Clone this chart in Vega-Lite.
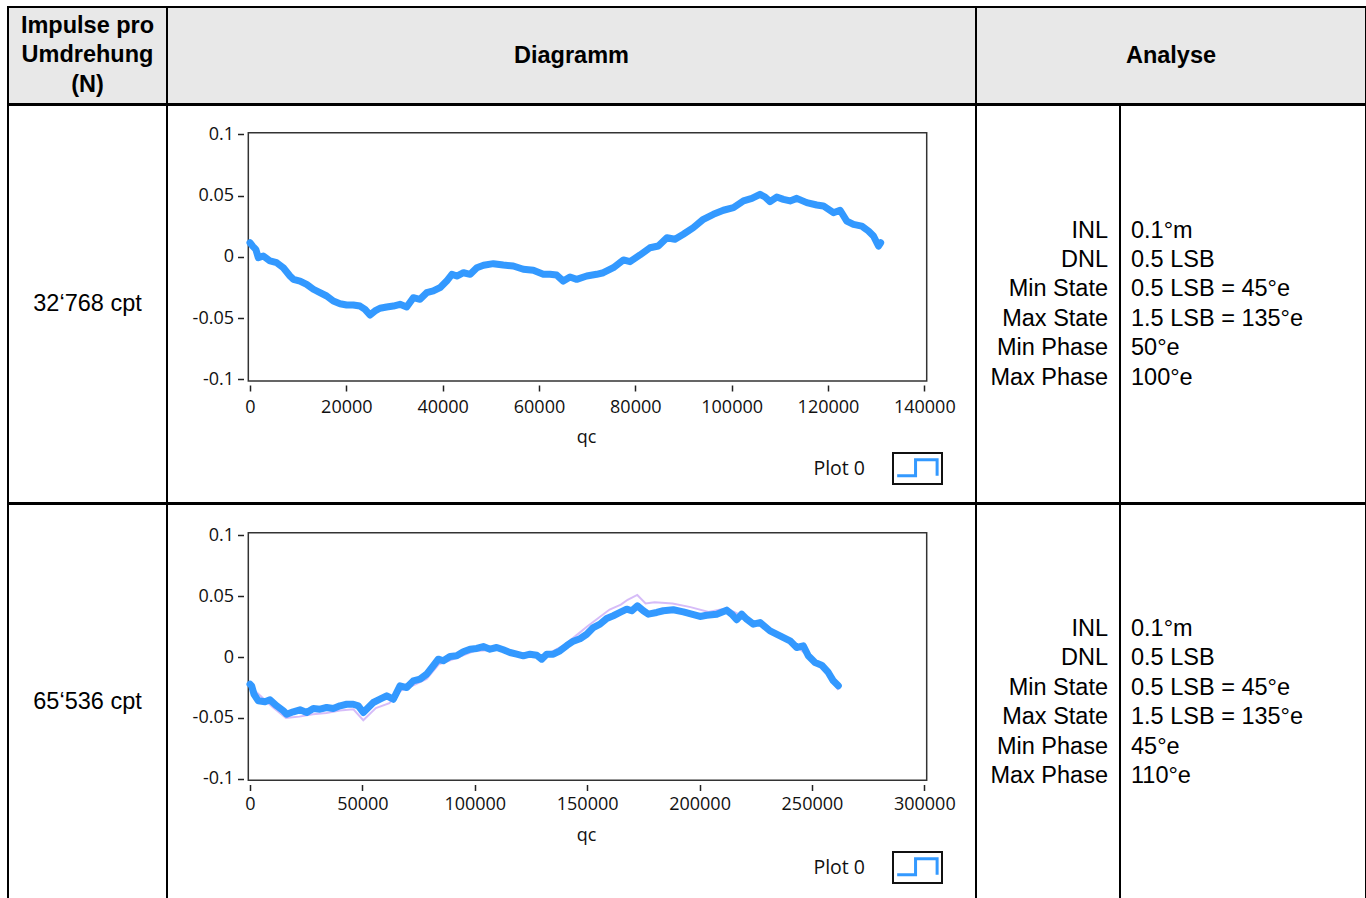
{
  "$schema": "https://vega.github.io/schema/vega-lite/v6.json",
  "background": "white",
  "padding": {"left": 7, "top": 6, "right": 0, "bottom": 0},
  "spacing": -2,
  "bounds": "full",
  "config": {
    "view": {"stroke": "#000000", "strokeWidth": 2},
    "text": {"font": "Liberation Sans", "fontSize": 23.5, "color": "#000000"}
  },
  "resolve": {"scale": {"color": "independent", "shape": "independent"}, "legend": {"color": "independent", "shape": "independent"}},
  "vconcat": [
    {
      "spacing": 0,
      "bounds": "flush",
      "hconcat": [
        {"width": 159, "height": 97, "view": {"fill": "#e8e8e8", "stroke": "#000000", "strokeWidth": 2},
         "data": {"values": [{"t": "Impulse pro\nUmdrehung\n(N)"}]},
         "mark": {"type": "text", "fontWeight": "bold", "lineBreak": "\n", "lineHeight": 29.5, "baseline": "middle", "dy": -30},
         "encoding": {"y": {"field": "t", "type": "nominal", "scale": {"type": "point"}, "axis": null}, "text": {"field": "t"}}},
        {"width": 809, "height": 97, "view": {"fill": "#e8e8e8", "stroke": "#000000", "strokeWidth": 2},
         "data": {"values": [{"t": "Diagramm"}]},
         "mark": {"type": "text", "fontWeight": "bold", "baseline": "middle"},
         "encoding": {"y": {"field": "t", "type": "nominal", "scale": {"type": "point"}, "axis": null}, "text": {"field": "t"}}},
        {"width": 390, "height": 97, "view": {"fill": "#e8e8e8", "stroke": "#000000", "strokeWidth": 2},
         "data": {"values": [{"t": "Analyse"}]},
         "mark": {"type": "text", "fontWeight": "bold", "baseline": "middle"},
         "encoding": {"y": {"field": "t", "type": "nominal", "scale": {"type": "point"}, "axis": null}, "text": {"field": "t"}}}
      ]
    },
    {
      "spacing": 0,
      "bounds": "flush",
      "resolve": {"scale": {"color": "independent", "shape": "independent"}, "legend": {"color": "independent", "shape": "independent"}},
      "hconcat": [
        {"width": 159, "height": 398,
         "data": {"values": [{"t": "32‘768 cpt"}]},
         "mark": {"type": "text", "baseline": "middle"},
         "encoding": {"y": {"field": "t", "type": "nominal", "scale": {"type": "point"}, "axis": null}, "text": {"field": "t"}}},
        {"width": 809, "height": 398,
         "layer": [
           {"data": {"values": [{}]},
            "mark": {"type": "rect", "fill": "transparent", "stroke": "#333333", "strokeWidth": 1.5},
            "encoding": {
              "x": {"datum": -350, "type": "quantitative", "scale": {"domain": [-17233, 150735], "nice": false, "zero": false},
                    "axis": {"orient": "bottom", "offset": -118, "values": [0, 20000, 40000, 60000, 80000, 100000, 120000, 140000], "format": "d",
                             "domain": false, "grid": false, "tickSize": 6, "tickWidth": 1.5, "tickColor": "#222222",
                             "labelFont": "Open Sans", "labelFontSize": 18, "labelColor": "#111111", "labelPadding": 7, "labelFlush": false, "labelOverlap": false,
                             "title": "qc", "titleFont": "Open Sans", "titleFontSize": 18, "titleFontWeight": "normal", "titleColor": "#111111",
                             "titleX": 419, "titleY": 57, "titleAlign": "center", "titleBaseline": "alphabetic"}},
              "x2": {"datum": 140500},
              "y": {"datum": 0.1013, "type": "quantitative", "scale": {"domain": [-0.20098, 0.12392], "nice": false, "zero": false},
                    "axis": {"orient": "left", "offset": -76.5, "values": [-0.1, -0.05, 0, 0.05, 0.1], "labelExpr": "'' + datum.value",
                             "domain": false, "grid": false, "tickSize": 6, "tickWidth": 1.5, "tickColor": "#222222",
                             "labelFont": "Open Sans", "labelFontSize": 18, "labelColor": "#111111", "labelPadding": 4, "title": null}},
              "y2": {"datum": -0.1014}
            }},
           {"data": {"values": [
              {"qc": 0, "v": 0.0115}, {"qc": 600, "v": 0.0085}, {"qc": 1200, "v": 0.0061}, {"qc": 1730, "v": -0.0007},
              {"qc": 2760, "v": 0.0007}, {"qc": 4150, "v": -0.0034}, {"qc": 5540, "v": -0.0048}, {"qc": 6920, "v": -0.0089},
              {"qc": 8300, "v": -0.0157}, {"qc": 9000, "v": -0.0184}, {"qc": 10380, "v": -0.0198}, {"qc": 11760, "v": -0.0225},
              {"qc": 13150, "v": -0.0265}, {"qc": 14530, "v": -0.0293}, {"qc": 15920, "v": -0.032}, {"qc": 17300, "v": -0.0361},
              {"qc": 18690, "v": -0.0383}, {"qc": 20070, "v": -0.0393}, {"qc": 21450, "v": -0.0393}, {"qc": 22840, "v": -0.0402},
              {"qc": 23880, "v": -0.0429}, {"qc": 24910, "v": -0.0475}, {"qc": 25950, "v": -0.0442}, {"qc": 26990, "v": -0.042},
              {"qc": 28380, "v": -0.041}, {"qc": 29760, "v": -0.0402}, {"qc": 31140, "v": -0.0388}, {"qc": 32530, "v": -0.041},
              {"qc": 33910, "v": -0.0334}, {"qc": 35300, "v": -0.0347}, {"qc": 36680, "v": -0.0293}, {"qc": 38060, "v": -0.0279},
              {"qc": 39450, "v": -0.0252}, {"qc": 40830, "v": -0.0198}, {"qc": 41920, "v": -0.0143}, {"qc": 42950, "v": -0.0157},
              {"qc": 44330, "v": -0.013}, {"qc": 45720, "v": -0.0143}, {"qc": 47100, "v": -0.0089}, {"qc": 48490, "v": -0.0069},
              {"qc": 50530, "v": -0.0056}, {"qc": 52590, "v": -0.0067}, {"qc": 54670, "v": -0.0075}, {"qc": 56740, "v": -0.0102},
              {"qc": 58820, "v": -0.011}, {"qc": 60900, "v": -0.0143}, {"qc": 62290, "v": -0.0143}, {"qc": 63670, "v": -0.0149},
              {"qc": 65050, "v": -0.0198}, {"qc": 66440, "v": -0.0165}, {"qc": 67830, "v": -0.0184}, {"qc": 69910, "v": -0.0157},
              {"qc": 71980, "v": -0.0143}, {"qc": 73360, "v": -0.013}, {"qc": 75440, "v": -0.0089}, {"qc": 77520, "v": -0.0026},
              {"qc": 78900, "v": -0.004}, {"qc": 80970, "v": 0.0015}, {"qc": 83050, "v": 0.0074}, {"qc": 84780, "v": 0.0088},
              {"qc": 86560, "v": 0.0156}, {"qc": 88240, "v": 0.0143}, {"qc": 89970, "v": 0.0184}, {"qc": 92050, "v": 0.0238},
              {"qc": 94130, "v": 0.0306}, {"qc": 96210, "v": 0.0347}, {"qc": 98290, "v": 0.038}, {"qc": 100380, "v": 0.0401},
              {"qc": 102460, "v": 0.0456}, {"qc": 104200, "v": 0.0477}, {"qc": 105890, "v": 0.051}, {"qc": 106930, "v": 0.0488},
              {"qc": 107970, "v": 0.045}, {"qc": 109360, "v": 0.0488}, {"qc": 110740, "v": 0.0469}, {"qc": 112130, "v": 0.0456},
              {"qc": 113520, "v": 0.0477}, {"qc": 115590, "v": 0.0442}, {"qc": 117670, "v": 0.0423}, {"qc": 119050, "v": 0.0415},
              {"qc": 121130, "v": 0.036}, {"qc": 122520, "v": 0.038}, {"qc": 123910, "v": 0.0292}, {"qc": 125290, "v": 0.0265},
              {"qc": 127020, "v": 0.0251}, {"qc": 128410, "v": 0.0211}, {"qc": 129450, "v": 0.017}, {"qc": 130490, "v": 0.0088},
              {"qc": 130940, "v": 0.0115}
            ]},
            "mark": {"type": "line", "strokeWidth": 7, "strokeJoin": "round", "strokeCap": "round"},
            "encoding": {
              "x": {"field": "qc", "type": "quantitative", "scale": {"domain": [-17233, 150735], "nice": false, "zero": false},
                    "axis": {"orient": "bottom", "offset": -118, "values": [0, 20000, 40000, 60000, 80000, 100000, 120000, 140000], "format": "d",
                             "domain": false, "grid": false, "tickSize": 6, "tickWidth": 1.5, "tickColor": "#222222",
                             "labelFont": "Open Sans", "labelFontSize": 18, "labelColor": "#111111", "labelPadding": 7, "labelFlush": false, "labelOverlap": false,
                             "title": "qc", "titleFont": "Open Sans", "titleFontSize": 18, "titleFontWeight": "normal", "titleColor": "#111111",
                             "titleX": 419, "titleY": 57, "titleAlign": "center", "titleBaseline": "alphabetic"}},
              "y": {"field": "v", "type": "quantitative", "scale": {"domain": [-0.20098, 0.12392], "nice": false, "zero": false},
                    "axis": {"orient": "left", "offset": -76.5, "values": [-0.1, -0.05, 0, 0.05, 0.1], "labelExpr": "'' + datum.value",
                             "domain": false, "grid": false, "tickSize": 6, "tickWidth": 1.5, "tickColor": "#222222",
                             "labelFont": "Open Sans", "labelFontSize": 18, "labelColor": "#111111", "labelPadding": 4, "title": null}},
              "color": {"datum": "Plot 0", "type": "nominal", "scale": {"domain": ["Plot 0"], "range": ["#3399ff"]},
                        "legend": {"orient": "none", "legendX": 725, "legendY": 338, "title": null,
                                   "symbolType": "M-0.85,0.28H-0.1V-0.375H0.78V0.28", "symbolSize": 2401, "symbolStrokeWidth": 3,
                                   "symbolFillColor": "transparent", "symbolOpacity": 1,
                                   "labelFont": "Open Sans", "labelFontSize": 19.5, "labelColor": "#111111", "labelAlign": "right",
                                   "labelBaseline": "middle", "labelOffset": -79, "labelLimit": 200, "padding": 0,
                                   "encode": {"symbols": {"update": {"strokeWidth": {"value": 3}}}}}}
            }},
           {"data": {"values": [{}]},
            "mark": {"type": "point", "opacity": 0, "color": "#111111", "strokeWidth": 2},
            "encoding": {
              "shape": {"datum": "box", "type": "nominal", "scale": {"domain": ["box"], "range": ["M-1,-0.633H1V0.633H-1Z"]},
                        "legend": {"orient": "none", "legendX": 725, "legendY": 338, "title": null, "symbolSize": 2401,
                                   "symbolStrokeWidth": 2, "symbolStrokeColor": "#111111", "symbolFillColor": "transparent",
                                   "symbolOpacity": 1, "labelExpr": "''", "padding": 0}}
            }}
         ]},
        {"width": 144, "height": 398,
         "data": {"values": [{"t": "INL\nDNL\nMin State\nMax State\nMin Phase\nMax Phase"}]},
         "mark": {"type": "text", "align": "right", "baseline": "middle", "dx": 60, "dy": -73.5, "lineBreak": "\n", "lineHeight": 29.4},
         "encoding": {"y": {"field": "t", "type": "nominal", "scale": {"type": "point"}, "axis": null}, "text": {"field": "t"}}},
        {"width": 246, "height": 398,
         "data": {"values": [{"t": "0.1°m\n0.5 LSB\n0.5 LSB = 45°e\n1.5 LSB = 135°e\n50°e\n100°e"}]},
         "mark": {"type": "text", "align": "left", "baseline": "middle", "dx": -112, "dy": -73.5, "lineBreak": "\n", "lineHeight": 29.4},
         "encoding": {"y": {"field": "t", "type": "nominal", "scale": {"type": "point"}, "axis": null}, "text": {"field": "t"}}}
      ]
    },
    {
      "spacing": 0,
      "bounds": "flush",
      "resolve": {"scale": {"color": "independent", "shape": "independent"}, "legend": {"color": "independent", "shape": "independent"}},
      "hconcat": [
        {"width": 159, "height": 395,
         "data": {"values": [{"t": "65‘536 cpt"}]},
         "mark": {"type": "text", "baseline": "middle"},
         "encoding": {"y": {"field": "t", "type": "nominal", "scale": {"type": "point"}, "axis": null}, "text": {"field": "t"}}},
        {"width": 809, "height": 395,
         "layer": [
           {"data": {"values": [{}]},
            "mark": {"type": "rect", "fill": "transparent", "stroke": "#333333", "strokeWidth": 1.5},
            "encoding": {
              "x": {"datum": -756, "type": "quantitative", "scale": {"domain": [-36927, 322997], "nice": false, "zero": false},
                    "axis": {"orient": "bottom", "offset": -114.5, "values": [0, 50000, 100000, 150000, 200000, 250000, 300000], "format": "d",
                             "domain": false, "grid": false, "tickSize": 6, "tickWidth": 1.5, "tickColor": "#222222",
                             "labelFont": "Open Sans", "labelFontSize": 18, "labelColor": "#111111", "labelPadding": 5, "labelFlush": false, "labelOverlap": false,
                             "title": "qc", "titleFont": "Open Sans", "titleFontSize": 18, "titleFontWeight": "normal", "titleColor": "#111111",
                             "titleX": 419, "titleY": 55.5, "titleAlign": "center", "titleBaseline": "alphabetic"}},
              "x2": {"datum": 301060},
              "y": {"datum": 0.1021, "type": "quantitative", "scale": {"domain": [-0.19885, 0.12572], "nice": false, "zero": false},
                    "axis": {"orient": "left", "offset": -76.5, "values": [-0.1, -0.05, 0, 0.05, 0.1], "labelExpr": "'' + datum.value",
                             "domain": false, "grid": false, "tickSize": 6, "tickWidth": 1.5, "tickColor": "#222222",
                             "labelFont": "Open Sans", "labelFontSize": 18, "labelColor": "#111111", "labelPadding": 4, "title": null}},
              "y2": {"datum": -0.1013}
            }},
           {"data": {"values": [
              {"qc": 0, "v": -0.024}, {"qc": 10000, "v": -0.041}, {"qc": 16000, "v": -0.05}, {"qc": 22000, "v": -0.049},
              {"qc": 28000, "v": -0.047}, {"qc": 34000, "v": -0.046}, {"qc": 40000, "v": -0.044}, {"qc": 46000, "v": -0.043},
              {"qc": 50400, "v": -0.052}, {"qc": 56000, "v": -0.042}, {"qc": 62000, "v": -0.038}, {"qc": 66700, "v": -0.028},
              {"qc": 72000, "v": -0.024}, {"qc": 78600, "v": -0.018}, {"qc": 84000, "v": -0.006}, {"qc": 90000, "v": -0.002},
              {"qc": 100000, "v": 0.005}, {"qc": 110000, "v": 0.006}, {"qc": 120000, "v": 0.001}, {"qc": 130000, "v": 0.0},
              {"qc": 140000, "v": 0.01}, {"qc": 146000, "v": 0.019}, {"qc": 150000, "v": 0.025}, {"qc": 155000, "v": 0.032},
              {"qc": 160000, "v": 0.039}, {"qc": 165000, "v": 0.043}, {"qc": 168000, "v": 0.047}, {"qc": 172300, "v": 0.051},
              {"qc": 176000, "v": 0.044}, {"qc": 180000, "v": 0.045}, {"qc": 188000, "v": 0.044}, {"qc": 196000, "v": 0.041},
              {"qc": 204000, "v": 0.037}, {"qc": 212000, "v": 0.04}, {"qc": 220000, "v": 0.033}, {"qc": 230000, "v": 0.023},
              {"qc": 240000, "v": 0.014}, {"qc": 250000, "v": -0.002}, {"qc": 258000, "v": -0.016}, {"qc": 261700, "v": -0.027}
            ]},
            "mark": {"type": "line", "strokeWidth": 2, "color": "#c4a0f5", "opacity": 0.7},
            "encoding": {"x": {"field": "qc", "type": "quantitative"}, "y": {"field": "v", "type": "quantitative"}}},
           {"data": {"values": [
              {"qc": 0, "v": -0.0223}, {"qc": 740, "v": -0.0237}, {"qc": 1780, "v": -0.0306}, {"qc": 3700, "v": -0.036},
              {"qc": 6670, "v": -0.0368}, {"qc": 8900, "v": -0.0352}, {"qc": 11870, "v": -0.0401}, {"qc": 14830, "v": -0.0442},
              {"qc": 16330, "v": -0.047}, {"qc": 19260, "v": -0.045}, {"qc": 22250, "v": -0.0434}, {"qc": 25230, "v": -0.0456},
              {"qc": 28160, "v": -0.0423}, {"qc": 31140, "v": -0.0429}, {"qc": 34120, "v": -0.0415}, {"qc": 37060, "v": -0.0423},
              {"qc": 40040, "v": -0.0401}, {"qc": 43020, "v": -0.0388}, {"qc": 45960, "v": -0.0388}, {"qc": 48180, "v": -0.0401},
              {"qc": 50410, "v": -0.0456}, {"qc": 52630, "v": -0.0415}, {"qc": 54860, "v": -0.0374}, {"qc": 57840, "v": -0.0347},
              {"qc": 60820, "v": -0.0319}, {"qc": 63760, "v": -0.0347}, {"qc": 66740, "v": -0.0237}, {"qc": 69720, "v": -0.0251},
              {"qc": 72650, "v": -0.0196}, {"qc": 75630, "v": -0.0182}, {"qc": 78610, "v": -0.0141}, {"qc": 81550, "v": -0.0072},
              {"qc": 83770, "v": -0.0018}, {"qc": 86000, "v": -0.0031}, {"qc": 88980, "v": 0.0004}, {"qc": 91960, "v": 0.001},
              {"qc": 94900, "v": 0.0043}, {"qc": 97880, "v": 0.0064}, {"qc": 100860, "v": 0.007}, {"qc": 103800, "v": 0.0086},
              {"qc": 106780, "v": 0.0064}, {"qc": 109760, "v": 0.0078}, {"qc": 112690, "v": 0.0059}, {"qc": 115670, "v": 0.0037},
              {"qc": 118650, "v": 0.0023}, {"qc": 121590, "v": 0.001}, {"qc": 124570, "v": 0.0023}, {"qc": 127550, "v": 0.0015},
              {"qc": 129780, "v": -0.0018}, {"qc": 132000, "v": 0.0023}, {"qc": 134940, "v": 0.0023}, {"qc": 137920, "v": 0.0051},
              {"qc": 141000, "v": 0.0095}, {"qc": 143840, "v": 0.013}, {"qc": 146820, "v": 0.015}, {"qc": 149800, "v": 0.0187},
              {"qc": 152740, "v": 0.0242}, {"qc": 155720, "v": 0.027}, {"qc": 158700, "v": 0.0316}, {"qc": 161640, "v": 0.0339},
              {"qc": 164610, "v": 0.0366}, {"qc": 167590, "v": 0.0393}, {"qc": 169820, "v": 0.038}, {"qc": 172330, "v": 0.0421},
              {"qc": 174980, "v": 0.038}, {"qc": 177210, "v": 0.0352}, {"qc": 180940, "v": 0.0366}, {"qc": 183870, "v": 0.038},
              {"qc": 188330, "v": 0.0388}, {"qc": 192780, "v": 0.0371}, {"qc": 196510, "v": 0.0352}, {"qc": 200210, "v": 0.0333},
              {"qc": 203190, "v": 0.0343}, {"qc": 207640, "v": 0.0352}, {"qc": 212090, "v": 0.0385}, {"qc": 214320, "v": 0.0352},
              {"qc": 216540, "v": 0.0306}, {"qc": 218770, "v": 0.0352}, {"qc": 220990, "v": 0.0311}, {"qc": 223920, "v": 0.027},
              {"qc": 226900, "v": 0.0283}, {"qc": 231350, "v": 0.0215}, {"qc": 235800, "v": 0.0174}, {"qc": 240250, "v": 0.0133},
              {"qc": 243220, "v": 0.0078}, {"qc": 246160, "v": 0.0092}, {"qc": 248380, "v": 0.001}, {"qc": 251370, "v": -0.0045},
              {"qc": 254350, "v": -0.0067}, {"qc": 257280, "v": -0.0127}, {"qc": 259510, "v": -0.0196}, {"qc": 261740, "v": -0.0237}
            ]},
            "mark": {"type": "line", "strokeWidth": 7, "strokeJoin": "round", "strokeCap": "round"},
            "encoding": {
              "x": {"field": "qc", "type": "quantitative", "scale": {"domain": [-36927, 322997], "nice": false, "zero": false},
                    "axis": {"orient": "bottom", "offset": -114.5, "values": [0, 50000, 100000, 150000, 200000, 250000, 300000], "format": "d",
                             "domain": false, "grid": false, "tickSize": 6, "tickWidth": 1.5, "tickColor": "#222222",
                             "labelFont": "Open Sans", "labelFontSize": 18, "labelColor": "#111111", "labelPadding": 5, "labelFlush": false, "labelOverlap": false,
                             "title": "qc", "titleFont": "Open Sans", "titleFontSize": 18, "titleFontWeight": "normal", "titleColor": "#111111",
                             "titleX": 419, "titleY": 55.5, "titleAlign": "center", "titleBaseline": "alphabetic"}},
              "y": {"field": "v", "type": "quantitative", "scale": {"domain": [-0.19885, 0.12572], "nice": false, "zero": false},
                    "axis": {"orient": "left", "offset": -76.5, "values": [-0.1, -0.05, 0, 0.05, 0.1], "labelExpr": "'' + datum.value",
                             "domain": false, "grid": false, "tickSize": 6, "tickWidth": 1.5, "tickColor": "#222222",
                             "labelFont": "Open Sans", "labelFontSize": 18, "labelColor": "#111111", "labelPadding": 4, "title": null}},
              "color": {"datum": "Plot 0", "type": "nominal", "scale": {"domain": ["Plot 0"], "range": ["#3399ff"]},
                        "legend": {"orient": "none", "legendX": 725, "legendY": 338, "title": null,
                                   "symbolType": "M-0.85,0.28H-0.1V-0.375H0.78V0.28", "symbolSize": 2401, "symbolStrokeWidth": 3,
                                   "symbolFillColor": "transparent", "symbolOpacity": 1,
                                   "labelFont": "Open Sans", "labelFontSize": 19.5, "labelColor": "#111111", "labelAlign": "right",
                                   "labelBaseline": "middle", "labelOffset": -79, "labelLimit": 200, "padding": 0,
                                   "encode": {"symbols": {"update": {"strokeWidth": {"value": 3}}}}}}
            }},
           {"data": {"values": [{}]},
            "mark": {"type": "point", "opacity": 0, "color": "#111111", "strokeWidth": 2},
            "encoding": {
              "shape": {"datum": "box", "type": "nominal", "scale": {"domain": ["box"], "range": ["M-1,-0.633H1V0.633H-1Z"]},
                        "legend": {"orient": "none", "legendX": 725, "legendY": 338, "title": null, "symbolSize": 2401,
                                   "symbolStrokeWidth": 2, "symbolStrokeColor": "#111111", "symbolFillColor": "transparent",
                                   "symbolOpacity": 1, "labelExpr": "''", "padding": 0}}
            }}
         ]},
        {"width": 144, "height": 395,
         "data": {"values": [{"t": "INL\nDNL\nMin State\nMax State\nMin Phase\nMax Phase"}]},
         "mark": {"type": "text", "align": "right", "baseline": "middle", "dx": 60, "dy": -72.5, "lineBreak": "\n", "lineHeight": 29.4},
         "encoding": {"y": {"field": "t", "type": "nominal", "scale": {"type": "point"}, "axis": null}, "text": {"field": "t"}}},
        {"width": 246, "height": 395,
         "data": {"values": [{"t": "0.1°m\n0.5 LSB\n0.5 LSB = 45°e\n1.5 LSB = 135°e\n45°e\n110°e"}]},
         "mark": {"type": "text", "align": "left", "baseline": "middle", "dx": -112, "dy": -72.5, "lineBreak": "\n", "lineHeight": 29.4},
         "encoding": {"y": {"field": "t", "type": "nominal", "scale": {"type": "point"}, "axis": null}, "text": {"field": "t"}}}
      ]
    }
  ]
}
